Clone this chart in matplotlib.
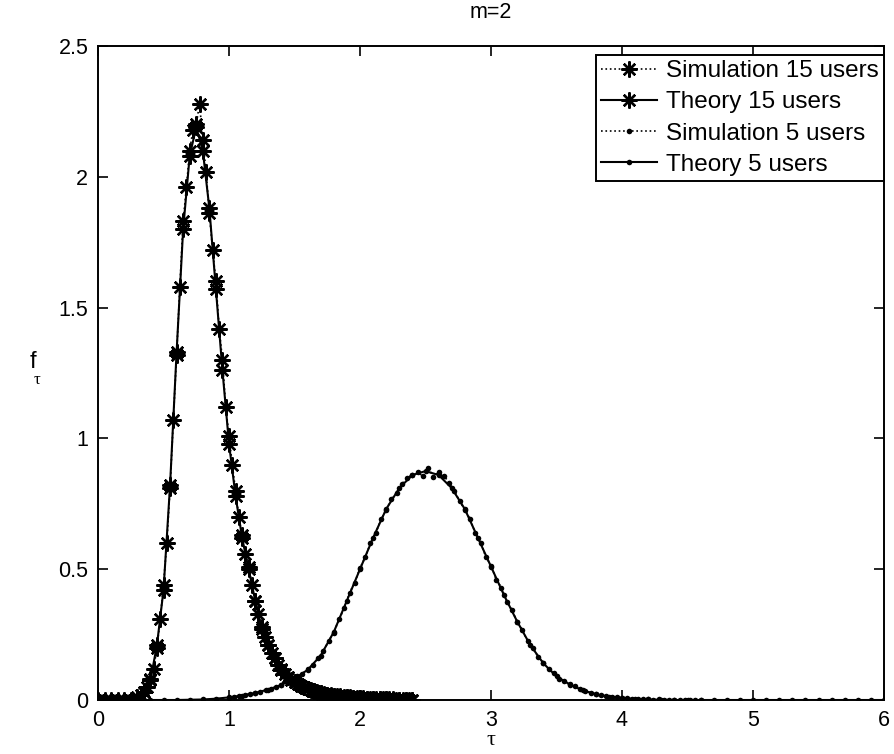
import matplotlib
matplotlib.use('Agg')
import matplotlib.pyplot as plt

plt.rcParams['font.family'] = ['Liberation Sans', 'DejaVu Sans']

# ---------------- data ----------------
sim15_x = [0.300, 0.325, 0.350, 0.375, 0.400, 0.425, 0.450, 0.475, 0.500, 0.525,
           0.550, 0.575, 0.600, 0.625, 0.650, 0.675, 0.700, 0.725, 0.750, 0.775,
           0.800, 0.825, 0.850, 0.875, 0.900, 0.925, 0.950, 0.975, 1.000, 1.025,
           1.050, 1.075, 1.100, 1.125, 1.150, 1.175, 1.200, 1.225, 1.250, 1.275,
           1.300, 1.325, 1.350, 1.375, 1.400, 1.425, 1.450, 1.475, 1.500, 1.525,
           1.550, 1.575, 1.600, 1.625, 1.650, 1.675, 1.700, 1.725, 1.750, 1.775,
           1.800, 1.825, 1.850, 1.875, 1.900, 1.925, 1.950, 1.975, 2.000, 2.025,
           2.050, 2.075, 2.100, 2.125, 2.150, 2.175, 2.200, 2.225, 2.250, 2.275,
           2.300, 2.325, 2.350, 2.375, 2.400]
sim15_y = [0.01, 0.02, 0.03, 0.05, 0.08, 0.12, 0.20, 0.31, 0.44, 0.60,
           0.81, 1.07, 1.32, 1.58, 1.83, 1.96, 2.10, 2.18, 2.20, 2.28,
           2.14, 2.02, 1.86, 1.72, 1.60, 1.42, 1.30, 1.12, 1.01, 0.90,
           0.80, 0.70, 0.63, 0.56, 0.51, 0.44, 0.38, 0.33, 0.28, 0.24,
           0.21, 0.18, 0.16, 0.135, 0.12, 0.10, 0.088, 0.078, 0.068, 0.062,
           0.054, 0.048, 0.043, 0.038, 0.034, 0.030, 0.027, 0.024, 0.021, 0.019,
           0.017, 0.015, 0.013, 0.012, 0.011, 0.010, 0.008, 0.007, 0.007, 0.006,
           0.005, 0.004, 0.004, 0.003, 0.003, 0.002, 0.002, 0.002, 0.001, 0.001,
           0.001, 0.001, 0.001, 0.000, 0.000]

th15_x = [0.00, 0.05, 0.10, 0.15, 0.20, 0.25, 0.30, 0.35, 0.40, 0.45,
          0.50, 0.55, 0.60, 0.65, 0.70, 0.75, 0.80, 0.85, 0.90, 0.95,
          1.00, 1.05, 1.10, 1.15, 1.20, 1.25, 1.30, 1.35, 1.40, 1.45,
          1.50, 1.55, 1.60, 1.65, 1.70, 1.75, 1.80, 1.85, 1.90, 1.95,
          2.00, 2.05, 2.10, 2.15, 2.20, 2.25, 2.30, 2.35, 2.40]
th15_y = [0.0, 0.0, 0.0, 0.0, 0.0, 0.001, 0.008, 0.03, 0.075, 0.21,
          0.42, 0.82, 1.33, 1.80, 2.08, 2.19, 2.10, 1.88, 1.57, 1.26,
          0.98, 0.78, 0.62, 0.50, 0.38, 0.27, 0.21, 0.16, 0.115, 0.088,
          0.068, 0.054, 0.042, 0.034, 0.027, 0.021, 0.017, 0.014, 0.011, 0.009,
          0.007, 0.005, 0.004, 0.003, 0.002, 0.002, 0.001, 0.001, 0.001]

sim5_x = [1.00, 1.04, 1.08, 1.12, 1.16, 1.20, 1.24, 1.28, 1.32, 1.36,
          1.40, 1.44, 1.48, 1.52, 1.56, 1.60, 1.64, 1.68, 1.72, 1.76,
          1.80, 1.84, 1.88, 1.92, 1.96, 2.00, 2.04, 2.08, 2.12, 2.16,
          2.20, 2.24, 2.28, 2.32, 2.36, 2.40, 2.44, 2.48, 2.52, 2.56,
          2.60, 2.64, 2.68, 2.72, 2.76, 2.80, 2.84, 2.88, 2.92, 2.96,
          3.00, 3.04, 3.08, 3.12, 3.16, 3.20, 3.24, 3.28, 3.32, 3.36,
          3.40, 3.44, 3.48, 3.52, 3.56, 3.60, 3.64, 3.68, 3.72, 3.76,
          3.80, 3.84, 3.88, 3.92, 3.96, 4.00, 4.04, 4.08, 4.12, 4.16,
          4.20, 4.24, 4.28, 4.32, 4.36, 4.40, 4.44, 4.48, 4.52, 4.56,
          4.60]
sim5_y = [0.008, 0.012, 0.015, 0.020, 0.022, 0.028, 0.031, 0.038, 0.042, 0.051,
          0.057, 0.068, 0.075, 0.090, 0.100, 0.117, 0.133, 0.160, 0.186, 0.225,
          0.258, 0.308, 0.352, 0.410, 0.449, 0.505, 0.545, 0.600, 0.638, 0.690,
          0.726, 0.768, 0.790, 0.826, 0.848, 0.862, 0.872, 0.855, 0.886, 0.854,
          0.872, 0.858, 0.830, 0.800, 0.760, 0.728, 0.692, 0.638, 0.602, 0.548,
          0.514, 0.460, 0.430, 0.376, 0.345, 0.298, 0.268, 0.224, 0.200, 0.164,
          0.143, 0.118, 0.103, 0.082, 0.074, 0.058, 0.053, 0.041, 0.036, 0.027,
          0.023, 0.018, 0.016, 0.012, 0.011, 0.007, 0.007, 0.004, 0.004, 0.003,
          0.002, 0.001, 0.002, 0.001, 0.000, 0.001, 0.0, 0.0, 0.0, 0.0,
          0.0]

th5_x = [0.0, 0.1, 0.2, 0.3, 0.4, 0.5, 0.6, 0.7, 0.8, 0.9,
         1.0, 1.1, 1.2, 1.3, 1.4, 1.5, 1.6, 1.7, 1.8, 1.9,
         2.0, 2.1, 2.2, 2.3, 2.4, 2.5, 2.6, 2.7, 2.8, 2.9,
         3.0, 3.1, 3.2, 3.3, 3.4, 3.5, 3.6, 3.7, 3.8, 3.9,
         4.0, 4.1, 4.2, 4.3, 4.4, 4.5, 4.6, 4.7, 4.8, 4.9,
         5.0, 5.1, 5.2, 5.3, 5.4, 5.5, 5.6, 5.7, 5.8, 5.9,
         6.0]
th5_y = [0.0, 0.0, 0.0, 0.0, 0.0, 0.0, 0.0, 0.001, 0.002, 0.005,
         0.010, 0.017, 0.027, 0.040, 0.058, 0.082, 0.115, 0.17, 0.26, 0.38,
         0.50, 0.62, 0.73, 0.81, 0.86, 0.875, 0.86, 0.81, 0.73, 0.62,
         0.51, 0.40, 0.30, 0.21, 0.14, 0.09, 0.06, 0.037, 0.022, 0.013,
         0.008, 0.004, 0.002, 0.001, 0.0, 0.0, 0.0, 0.0, 0.0, 0.0,
         0.0, 0.0, 0.0, 0.0, 0.0, 0.0, 0.0, 0.0, 0.0, 0.0,
         0.0]

labels = ['Simulation 15 users', 'Theory 15 users', 'Simulation 5 users', 'Theory 5 users']
title = 'm=2'
xlabel = 'τ'
ylabel_main = 'f'
ylabel_sub = 'τ'
xticks = [0, 1, 2, 3, 4, 5, 6]
yticks = [0, 0.5, 1, 1.5, 2, 2.5]
ytick_labels = ['0', '0.5', '1', '1.5', '2', '2.5']

# ---------------- figure ----------------
fig = plt.figure(figsize=(8.94, 7.54), dpi=100)
ax = fig.add_axes([98 / 894, 1 - 700 / 754, (884 - 98) / 894, (700 - 46) / 754])

star = (8, 2, 0)
ax.plot(sim15_x, sim15_y, linestyle=':', color='k', linewidth=1.2,
        marker=star, markersize=11.5, markeredgewidth=1.7, label=labels[0])
ax.plot(th15_x, th15_y, linestyle='-', color='k', linewidth=1.5,
        marker=star, markersize=11.5, markeredgewidth=1.7, label=labels[1])
ax.plot(sim5_x, sim5_y, linestyle=':', color='k', linewidth=1.2,
        marker='o', markersize=4, markeredgewidth=0, label=labels[2])
ax.plot(th5_x, th5_y, linestyle='-', color='k', linewidth=1.5,
        marker='o', markersize=4, markeredgewidth=0, label=labels[3])

ax.set_xlim(0, 6)
ax.set_ylim(0, 2.5)
ax.set_xticks(xticks)
ax.set_xticklabels([str(t) for t in xticks])
ax.set_yticks(yticks)
ax.set_yticklabels(ytick_labels)
ax.tick_params(direction='in', length=7, width=1.2, labelsize=15.5,
               top=True, right=True, pad=7, colors='k')
for s in ax.spines.values():
    s.set_linewidth(1.4)
    s.set_color('k')

ax.set_title(title, fontsize=15.5, pad=20)
ax.set_xlabel(xlabel, fontsize=16, family=['Liberation Serif', 'DejaVu Serif'], labelpad=0)
fig.text(33 / 894, 1 - 362 / 754, ylabel_main, fontsize=17, ha='center', va='center')
fig.text(37 / 894, 1 - 380 / 754, ylabel_sub, fontsize=12,
         family=['Liberation Serif', 'DejaVu Serif'], ha='center', va='center')

leg = ax.legend(loc='upper right', bbox_to_anchor=(1.0, 0.986), borderaxespad=0,
                fontsize=17.5, numpoints=1, handlelength=2.3, handletextpad=0.4,
                labelspacing=0.38, borderpad=0.2, fancybox=False, framealpha=1,
                edgecolor='k')
leg.get_frame().set_linewidth(1.4)

fig.savefig('out.png', dpi=100)
